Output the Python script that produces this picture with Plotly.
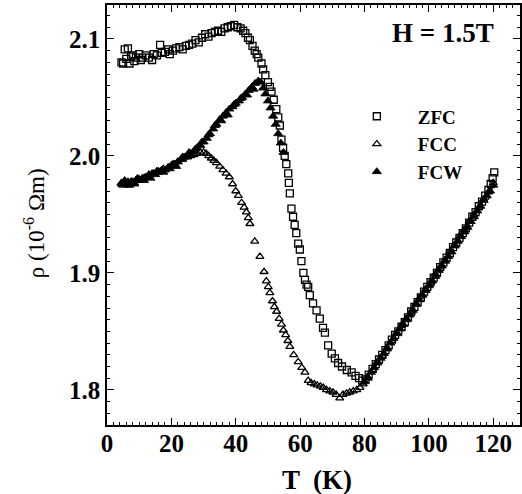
import plotly.graph_objects as go

# ZFC (open squares)
zfc_T = [4.5, 5.0, 5.5, 6.0, 6.5, 7.0, 7.5, 8.0, 8.5, 9.0, 10.0, 10.5, 11.0, 12.0, 13.0, 14.0, 14.5, 15.5, 16.5, 17.0,
         18.0, 19.0, 19.5, 20.5, 21.5, 22.5, 23.5, 24.5, 25.5, 26.5, 27.5, 28.5, 29.5, 30.5, 31.5, 32.5, 33.5, 34.5,
         35.5, 36.5, 37.5, 38.5, 39.5, 40.5, 41.5, 42.3, 43.0, 43.8, 44.4, 45.2, 45.9, 46.5, 47.0, 48.0, 48.5, 49.2,
         50.0, 50.6, 51.1, 51.8, 52.6, 53.2, 53.7, 54.2, 54.7, 55.2, 55.7, 56.3, 56.5, 56.8, 57.3, 57.8, 58.3, 58.8,
         59.4, 59.9, 60.4, 61.0, 61.5, 62.0, 62.5, 63.0, 64.0, 65.1, 66.1, 67.1, 67.7, 68.7, 69.8, 70.8, 71.8, 73.0,
         74.5, 76.0, 77.2, 78.3, 79.3, 80.3, 81.3, 82.5, 83.5, 84.5, 85.5, 86.5, 87.5, 88.5, 89.5, 90.5, 91.5, 92.5,
         93.5, 94.5, 95.5, 96.5, 97.5, 98.5, 99.5, 100.5, 101.5, 102.5, 103.5, 104.5, 105.5, 106.5, 107.5, 108.5,
         109.5, 110.5, 111.5, 112.5, 113.5, 114.5, 115.5, 116.5, 117.5, 118.5, 119.2, 119.8, 120.3]
zfc_rho = [2.080, 2.079, 2.091, 2.083, 2.092, 2.079, 2.085, 2.086, 2.081, 2.084, 2.087, 2.082, 2.084, 2.086, 2.084,
           2.082, 2.087, 2.086, 2.095, 2.088, 2.089, 2.091, 2.087, 2.090, 2.092, 2.093, 2.091, 2.094, 2.095, 2.096,
           2.099, 2.097, 2.101, 2.104, 2.102, 2.105, 2.106, 2.107, 2.106, 2.109, 2.110, 2.111, 2.112, 2.110, 2.109,
           2.107, 2.105, 2.101, 2.099, 2.094, 2.090, 2.087, 2.084, 2.079, 2.074, 2.069, 2.063, 2.059, 2.055, 2.048,
           2.040, 2.033, 2.026, 2.014, 2.007, 2.000, 1.993, 1.985, 1.977, 1.968, 1.955, 1.948, 1.941, 1.934, 1.925,
           1.920, 1.910, 1.900, 1.894, 1.890, 1.888, 1.881, 1.874, 1.868, 1.861, 1.853, 1.849, 1.838, 1.831, 1.827,
           1.823, 1.820, 1.817, 1.815, 1.812, 1.810, 1.808, 1.809, 1.813, 1.818, 1.822, 1.826, 1.830, 1.834, 1.838,
           1.843, 1.847, 1.850, 1.854, 1.858, 1.862, 1.867, 1.871, 1.875, 1.879, 1.884, 1.888, 1.892, 1.896, 1.900,
           1.905, 1.909, 1.913, 1.917, 1.922, 1.926, 1.930, 1.934, 1.938, 1.943, 1.948, 1.952, 1.957, 1.961, 1.966,
           1.971, 1.976, 1.981, 1.986]

# FCC (open triangles)
fcc_T = [4.5, 5.5, 6.5, 7.5, 8.5, 10.0, 11.5, 13.0, 14.5, 16.0, 17.5, 19.0, 20.5, 22.0, 23.5, 25.0, 26.0, 27.0, 28.0,
         29.0, 30.0, 30.8, 31.6, 32.4, 33.2, 34.0, 35.0, 36.0, 37.0, 38.0, 39.0, 40.0, 40.8, 41.8, 42.6, 43.3, 43.9,
         44.4, 45.9, 47.5, 48.8, 49.5, 50.1, 50.6, 51.4, 52.0, 52.7, 53.5, 54.2, 54.8, 55.5, 56.2, 56.8, 58.0, 59.4,
         60.5, 61.5, 62.5, 63.4, 64.4, 65.3, 66.3, 67.2, 68.2, 69.2, 70.2, 71.2, 72.3, 73.3, 74.4, 75.4, 76.5, 77.6,
         78.6, 79.6, 81.0, 82.5, 84.0, 85.5, 87.0, 88.5, 90.0, 91.5, 93.0, 94.5, 96.0, 97.5, 99.0, 100.5, 102.0,
         103.5, 105.0, 106.5, 108.0, 109.5, 111.0, 112.5, 114.0, 115.5, 117.0, 118.5, 120.0]
fcc_rho = [1.976, 1.977, 1.975, 1.978, 1.977, 1.980, 1.981, 1.984, 1.985, 1.986, 1.989, 1.990, 1.993, 1.995, 1.997,
           1.999, 2.000, 2.001, 2.002, 2.003, 2.003, 2.002, 2.000, 1.998, 1.996, 1.994, 1.991, 1.988, 1.985, 1.982,
           1.976, 1.970, 1.966, 1.960, 1.956, 1.952, 1.947, 1.942, 1.927, 1.914, 1.901, 1.893, 1.888, 1.883, 1.876,
           1.871, 1.867, 1.861, 1.856, 1.851, 1.847, 1.842, 1.837, 1.830, 1.824, 1.819, 1.815, 1.808, 1.806, 1.805,
           1.804, 1.803, 1.802, 1.800, 1.799, 1.798, 1.796, 1.793, 1.796, 1.797, 1.798, 1.799, 1.800, 1.802, 1.805,
           1.811, 1.817, 1.824, 1.829, 1.836, 1.842, 1.849, 1.855, 1.861, 1.867, 1.874, 1.880, 1.886, 1.892, 1.899,
           1.905, 1.911, 1.918, 1.924, 1.931, 1.937, 1.944, 1.950, 1.956, 1.963, 1.969, 1.977]

# FCW (filled triangles)
fcw_T = [4.5, 5.0, 5.5, 6.0, 6.5, 7.0, 7.5, 8.0, 8.5, 9.0, 9.5, 10.0, 11.0, 11.5, 12.0, 13.0, 13.5, 14.0, 15.0, 15.5,
         16.0, 17.0, 17.5, 18.0, 19.0, 19.5, 20.0, 21.0, 21.5, 22.0, 23.0, 23.5, 24.0, 25.0, 25.5, 26.0, 27.0, 27.5,
         28.0, 29.0, 29.5, 30.0, 31.0, 31.5, 32.0, 33.0, 33.5, 34.0, 35.0, 35.5, 36.0, 37.0, 37.5, 38.0, 39.0, 39.5,
         40.0, 41.0, 41.5, 42.0, 43.0, 43.5, 44.0, 45.0, 45.5, 46.0, 47.0, 47.8, 48.5, 49.2, 50.0, 50.8, 51.6, 52.4,
         53.2, 54.0, 54.8, 80.0, 81.0, 82.0, 83.0, 84.0, 85.0, 86.0, 87.0, 88.0, 89.0, 90.0, 91.0, 92.0, 93.0, 94.0,
         95.0, 96.0, 97.0, 98.0, 99.0, 100.0, 101.0, 102.0, 103.0, 104.0, 105.0, 106.0, 107.0, 108.0, 109.0, 110.0,
         111.0, 112.0, 113.0, 114.0, 115.0, 116.0, 117.0, 118.0, 119.0, 120.0]
fcw_rho = [1.977, 1.975, 1.979, 1.976, 1.978, 1.975, 1.977, 1.978, 1.976, 1.979, 1.981, 1.979, 1.981, 1.979, 1.982,
           1.983, 1.981, 1.985, 1.984, 1.987, 1.987, 1.988, 1.986, 1.988, 1.990, 1.989, 1.992, 1.993, 1.991, 1.995,
           1.997, 1.999, 1.999, 2.000, 2.003, 2.002, 2.004, 2.006, 2.007, 2.009, 2.012, 2.012, 2.015, 2.018, 2.019,
           2.023, 2.026, 2.027, 2.031, 2.030, 2.034, 2.037, 2.035, 2.040, 2.042, 2.044, 2.045, 2.047, 2.049, 2.050,
           2.053, 2.052, 2.056, 2.059, 2.057, 2.062, 2.064, 2.063, 2.058, 2.053, 2.047, 2.041, 2.034, 2.027, 2.019,
           2.011, 2.003, 1.807, 1.810, 1.815, 1.819, 1.823, 1.827, 1.831, 1.835, 1.840, 1.844, 1.848, 1.852, 1.856,
           1.860, 1.864, 1.868, 1.873, 1.877, 1.881, 1.885, 1.889, 1.893, 1.897, 1.902, 1.906, 1.910, 1.914, 1.918,
           1.923, 1.927, 1.931, 1.935, 1.939, 1.944, 1.948, 1.953, 1.957, 1.962, 1.966, 1.970, 1.975]

x_ticks = [0, 20, 40, 60, 80, 100, 120]
y_ticks = [1.8, 1.9, 2.0, 2.1]

FONT = "Liberation Serif"

fig = go.Figure()
fig.add_trace(go.Scatter(x=zfc_T, y=zfc_rho, mode="markers", name="ZFC",
                         marker=dict(symbol="square-open", size=7, color="black", line=dict(width=1.3, color="black"))))
fig.add_trace(go.Scatter(x=fcc_T, y=fcc_rho, mode="markers", name="FCC",
                         marker=dict(symbol="triangle-up-open", size=7, color="black", line=dict(width=1.3, color="black"))))
fig.add_trace(go.Scatter(x=fcw_T, y=fcw_rho, mode="markers", name="FCW",
                         marker=dict(symbol="triangle-up", size=8, color="black", line=dict(width=0.8, color="black"))))

axis_common = dict(showline=True, linecolor="black", linewidth=1.5, mirror="ticks",
                   ticks="inside", ticklen=7, tickwidth=1.3, tickcolor="black",
                   showgrid=False, zeroline=False, automargin=False,
                   tickfont=dict(family=FONT, size=25, color="black", weight="bold"))

fig.update_xaxes(range=[0, 128.3], tickvals=x_ticks, ticklabelstandoff=-5,
                 minor=dict(dtick=2, ticks="inside", ticklen=3, tickwidth=1, tickcolor="black", showgrid=False),
                 **axis_common)
fig.update_yaxes(range=[1.770, 2.129], tickvals=y_ticks, tickformat=".1f",
                 minor=dict(dtick=0.01, ticks="inside", ticklen=3, tickwidth=1, tickcolor="black", showgrid=False),
                 **axis_common)

fig.add_annotation(text="ρ (10<sup>-6</sup> Ωm)", xref="paper", yref="paper", x=-0.175, y=0.48,
                   textangle=-90, showarrow=False, xanchor="center", yanchor="middle",
                   font=dict(family=FONT, size=23, color="black"))
fig.add_annotation(text="T  (K)", xref="paper", yref="paper", x=0.508, y=-0.131,
                   showarrow=False, xanchor="center", yanchor="middle",
                   font=dict(family=FONT, size=27, color="black", weight="bold"))
fig.add_annotation(text="H = 1.5T", xref="paper", yref="paper", x=0.8136, y=0.933,
                   showarrow=False, xanchor="center", yanchor="middle",
                   font=dict(family=FONT, size=27, color="black", weight="bold"))

fig.update_layout(width=522, height=494, margin=dict(l=107, r=2, t=5, b=69, autoexpand=False),
                  paper_bgcolor="white", plot_bgcolor="white",
                  legend=dict(x=0.554, y=0.780, xanchor="left", yanchor="top",
                              bgcolor="rgba(0,0,0,0)", borderwidth=0, itemwidth=72,
                              font=dict(family=FONT, size=19, color="black", weight="bold")),
                  showlegend=True)

fig.write_html("out.html", config={"displayModeBar": False},
               post_script="document.body.style.margin='0px';")
